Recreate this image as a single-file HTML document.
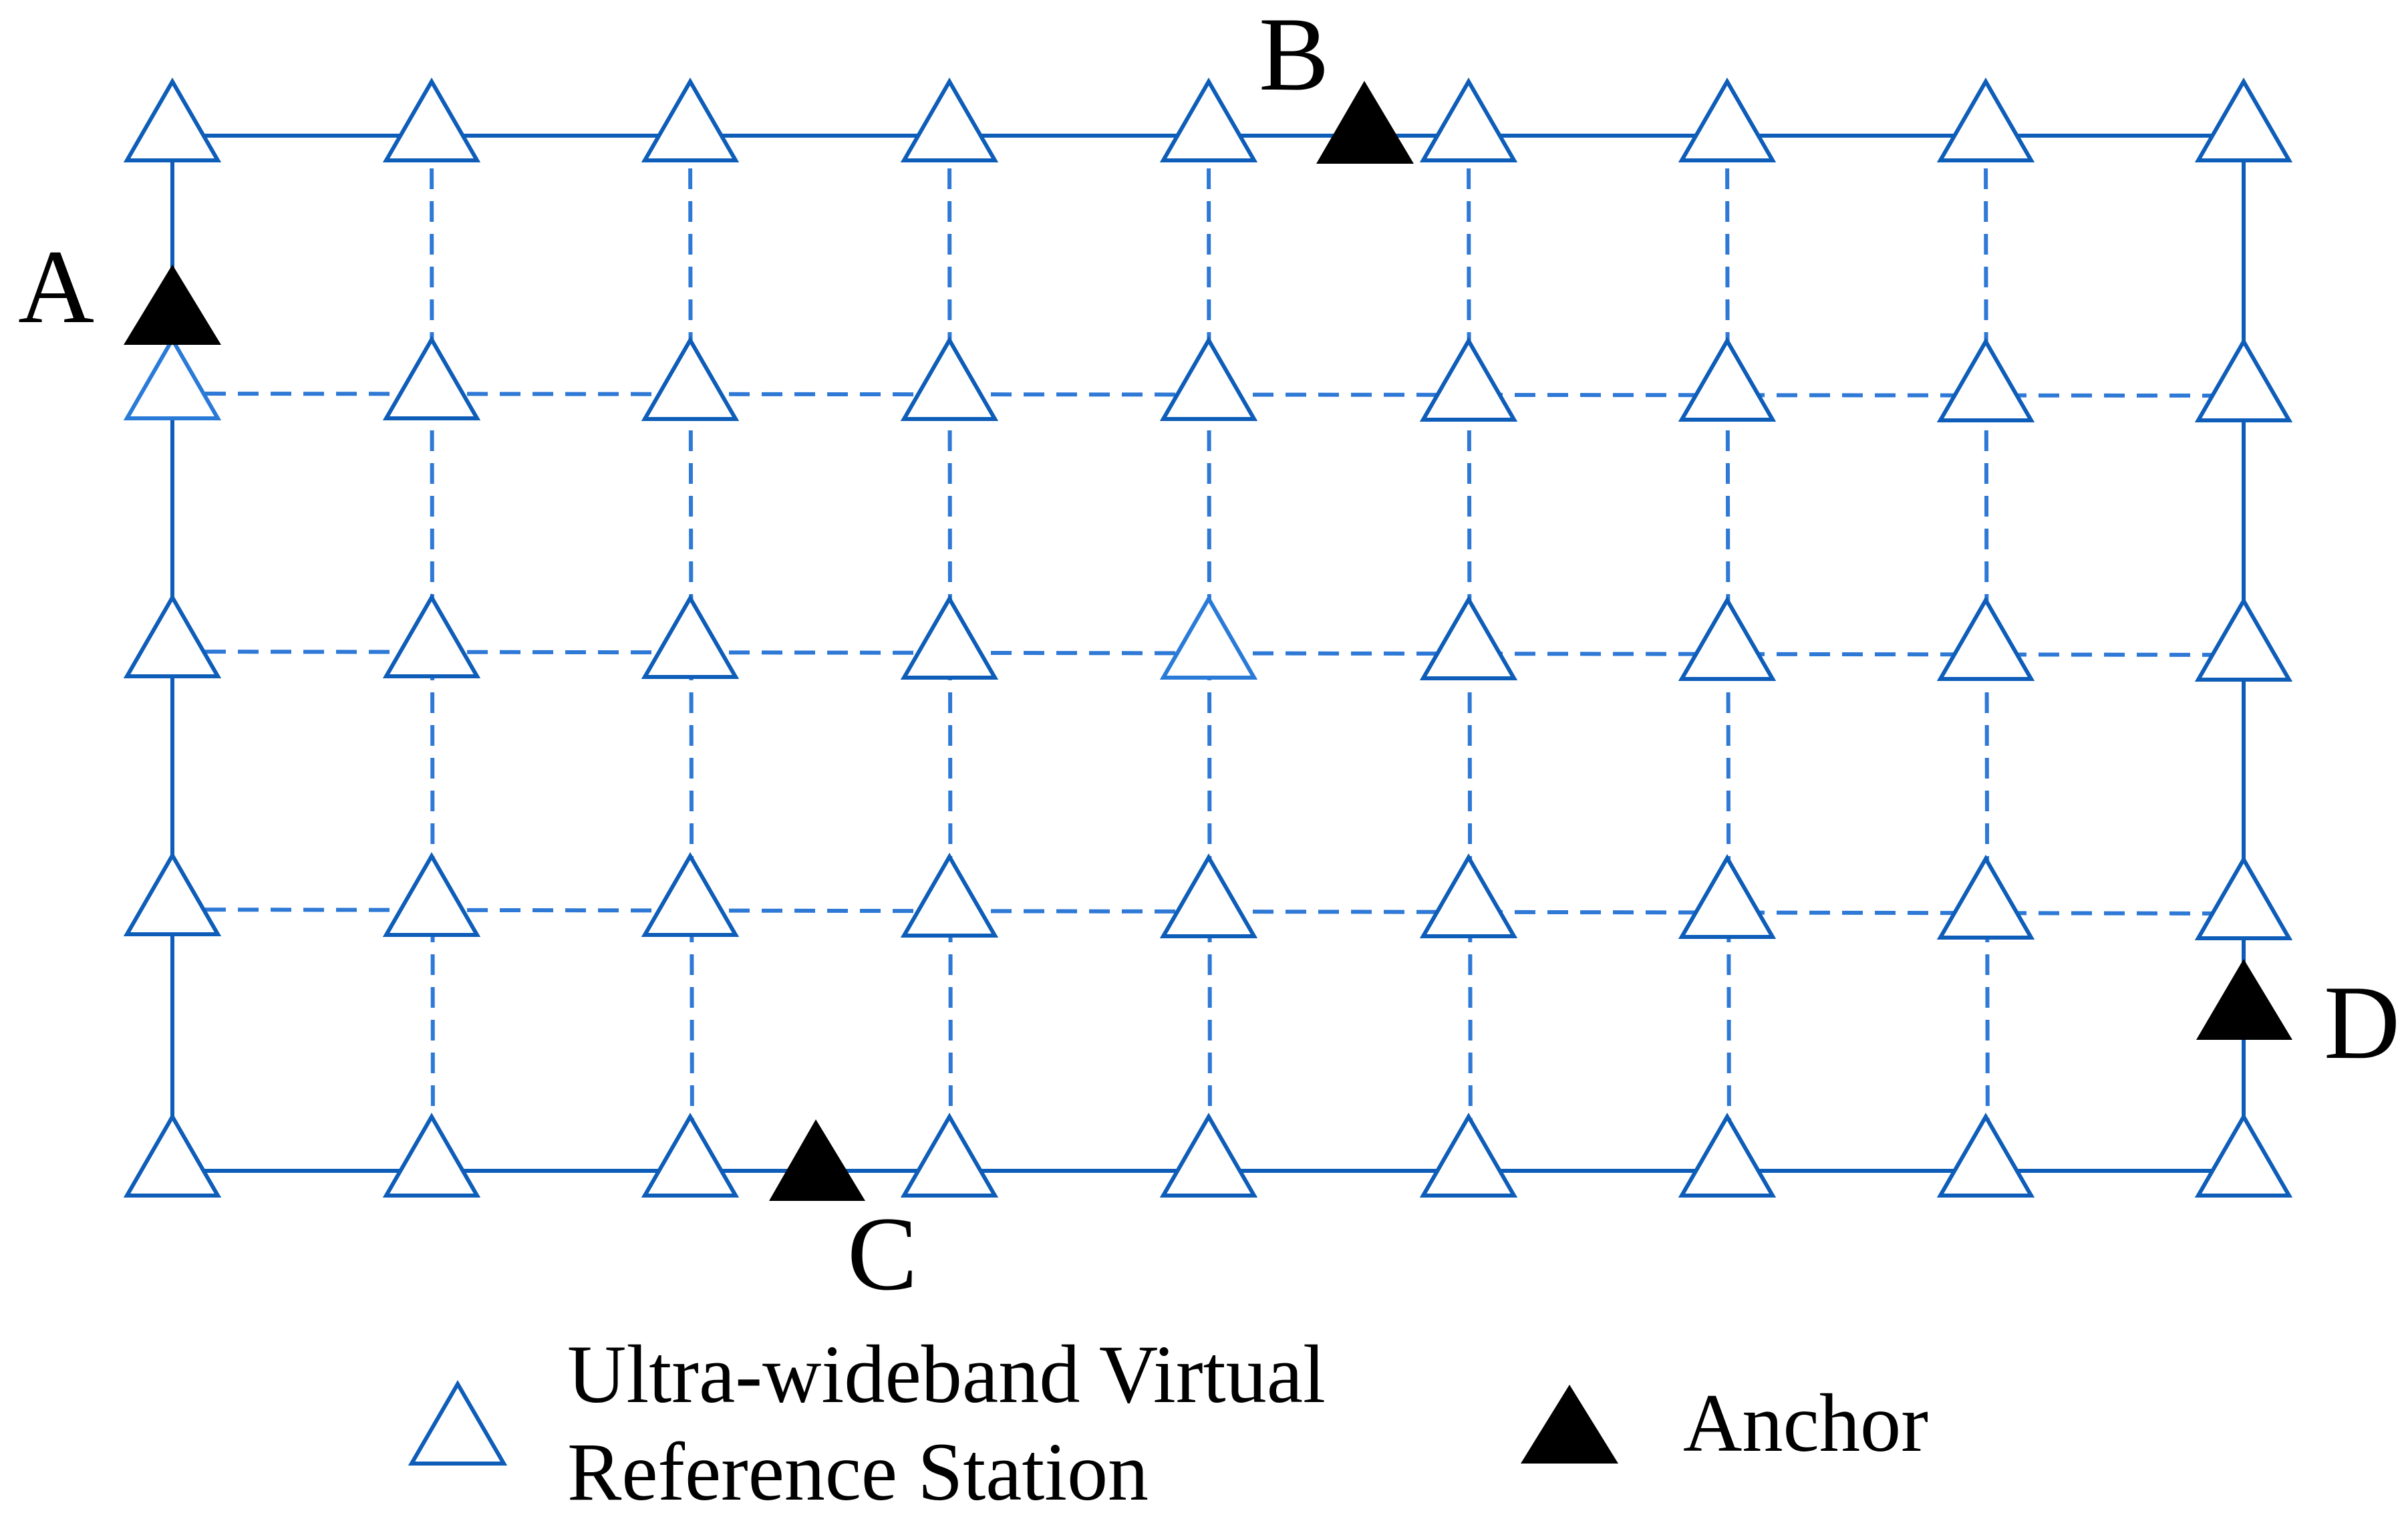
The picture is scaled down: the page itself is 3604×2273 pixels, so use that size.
<!DOCTYPE html>
<html><head><meta charset="utf-8"><style>html,body{margin:0;padding:0;background:#fff}svg{display:block}</style></head>
<body>
<svg width="3604" height="2273" viewBox="0 0 3604 2273" xmlns="http://www.w3.org/2000/svg" font-family="Liberation Serif, serif">
<rect width="3604" height="2273" fill="#fff"/>
<g stroke="#2e78d6" stroke-width="6" stroke-dasharray="31 18" fill="none">
<line x1="258" y1="589" x2="3360" y2="592"/>
<line x1="258" y1="975" x2="3360" y2="980"/>
<line x1="258" y1="1361" x2="3360" y2="1367"/>
<line x1="646" y1="203" x2="648" y2="1752"/>
<line x1="1033" y1="203" x2="1036" y2="1752"/>
<line x1="1421" y1="203" x2="1423" y2="1752"/>
<line x1="1809" y1="203" x2="1811" y2="1752"/>
<line x1="2198" y1="203" x2="2201" y2="1752"/>
<line x1="2585" y1="203" x2="2588" y2="1752"/>
<line x1="2972" y1="203" x2="2975" y2="1752"/>
</g>
<rect x="258" y="203" width="3100" height="1549" fill="none" stroke="#0e5db8" stroke-width="6"/>
<g fill="#fff" stroke="#0e5db8" stroke-width="6">
<polygon points="0,-81 68,37 -68,37" transform="translate(258,203)"/>
<polygon points="0,-81 68,37 -68,37" transform="translate(646,203)"/>
<polygon points="0,-81 68,37 -68,37" transform="translate(1033,203)"/>
<polygon points="0,-81 68,37 -68,37" transform="translate(1421,203)"/>
<polygon points="0,-81 68,37 -68,37" transform="translate(1809,203)"/>
<polygon points="0,-81 68,37 -68,37" transform="translate(2198,203)"/>
<polygon points="0,-81 68,37 -68,37" transform="translate(2585,203)"/>
<polygon points="0,-81 68,37 -68,37" transform="translate(2972,203)"/>
<polygon points="0,-81 68,37 -68,37" transform="translate(3358,203)"/>
<polygon points="0,-81 68,37 -68,37" transform="translate(258,589)" stroke="#2a7ad8"/>
<polygon points="0,-81 68,37 -68,37" transform="translate(646,589)"/>
<polygon points="0,-81 68,37 -68,37" transform="translate(1033,590)"/>
<polygon points="0,-81 68,37 -68,37" transform="translate(1421,590)"/>
<polygon points="0,-81 68,37 -68,37" transform="translate(1809,590)"/>
<polygon points="0,-81 68,37 -68,37" transform="translate(2198,591)"/>
<polygon points="0,-81 68,37 -68,37" transform="translate(2585,591)"/>
<polygon points="0,-81 68,37 -68,37" transform="translate(2972,592)"/>
<polygon points="0,-81 68,37 -68,37" transform="translate(3358,592)"/>
<polygon points="0,-81 68,37 -68,37" transform="translate(258,975)"/>
<polygon points="0,-81 68,37 -68,37" transform="translate(646,975)"/>
<polygon points="0,-81 68,37 -68,37" transform="translate(1033,976)"/>
<polygon points="0,-81 68,37 -68,37" transform="translate(1421,977)"/>
<polygon points="0,-81 68,37 -68,37" transform="translate(1809,977)" stroke="#2a7ad8"/>
<polygon points="0,-81 68,37 -68,37" transform="translate(2198,978)"/>
<polygon points="0,-81 68,37 -68,37" transform="translate(2585,979)"/>
<polygon points="0,-81 68,37 -68,37" transform="translate(2972,979)"/>
<polygon points="0,-81 68,37 -68,37" transform="translate(3358,980)"/>
<polygon points="0,-81 68,37 -68,37" transform="translate(258,1361)"/>
<polygon points="0,-81 68,37 -68,37" transform="translate(646,1362)"/>
<polygon points="0,-81 68,37 -68,37" transform="translate(1033,1362)"/>
<polygon points="0,-81 68,37 -68,37" transform="translate(1421,1363)"/>
<polygon points="0,-81 68,37 -68,37" transform="translate(1809,1364)"/>
<polygon points="0,-81 68,37 -68,37" transform="translate(2198,1364)"/>
<polygon points="0,-81 68,37 -68,37" transform="translate(2585,1365)"/>
<polygon points="0,-81 68,37 -68,37" transform="translate(2972,1366)"/>
<polygon points="0,-81 68,37 -68,37" transform="translate(3358,1367)"/>
<polygon points="0,-81 68,37 -68,37" transform="translate(258,1752)"/>
<polygon points="0,-81 68,37 -68,37" transform="translate(646,1752)"/>
<polygon points="0,-81 68,37 -68,37" transform="translate(1033,1752)"/>
<polygon points="0,-81 68,37 -68,37" transform="translate(1421,1752)"/>
<polygon points="0,-81 68,37 -68,37" transform="translate(1809,1752)"/>
<polygon points="0,-81 68,37 -68,37" transform="translate(2198,1752)"/>
<polygon points="0,-81 68,37 -68,37" transform="translate(2585,1752)"/>
<polygon points="0,-81 68,37 -68,37" transform="translate(2972,1752)"/>
<polygon points="0,-81 68,37 -68,37" transform="translate(3358,1752)"/>
</g>
<g fill="#000">
<polygon points="258,396 331,516 185,516"/>
<polygon points="2042,121 2116,245 1970,245"/>
<polygon points="1221,1675 1295,1797 1151,1797"/>
<polygon points="3358,1435 3431,1556 3287,1556"/>
<polygon points="2349,2072 2422,2190 2276,2190"/>
</g>
<polygon points="685,2071 754,2190 616,2190" fill="#fff" stroke="#0e5db8" stroke-width="6"/>
<g font-size="158" fill="#000">
<text x="27" y="482">A</text>
<text x="1884" y="134">B</text>
<text x="1268" y="1929">C</text>
<text x="3478" y="1583">D</text>
</g>
<g font-size="124" fill="#000">
<text x="849" y="2098" textLength="1135" lengthAdjust="spacingAndGlyphs">Ultra-wideband Virtual</text>
<text x="849" y="2244" textLength="870" lengthAdjust="spacingAndGlyphs">Reference Station</text>
<text x="2519" y="2171" textLength="367" lengthAdjust="spacingAndGlyphs">Anchor</text>
</g>
</svg>
</body></html>
